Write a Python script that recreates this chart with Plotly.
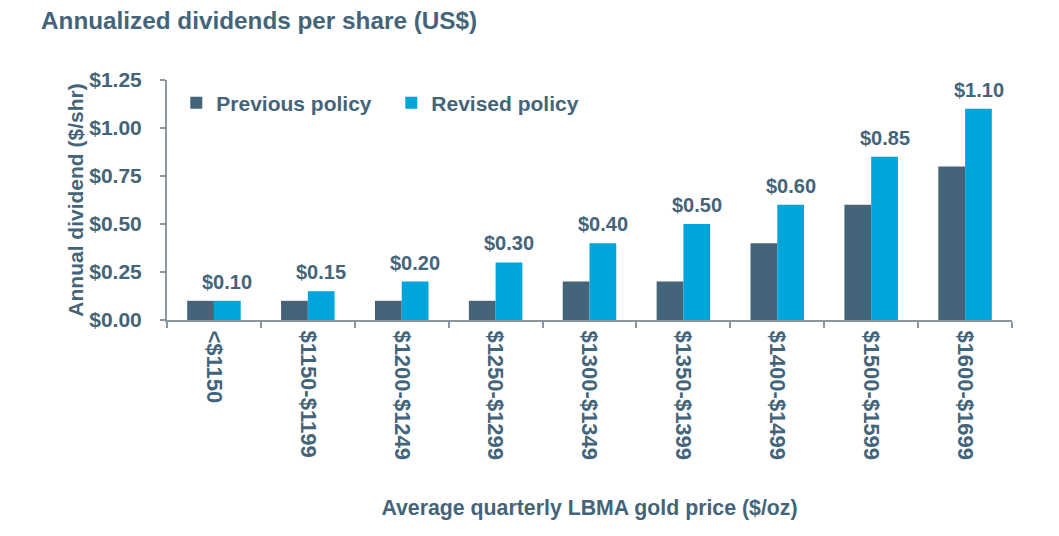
import plotly.graph_objects as go

# data
categories = ["<$1150", "$1150-$1199", "$1200-$1249", "$1250-$1299", "$1300-$1349",
              "$1350-$1399", "$1400-$1499", "$1500-$1599", "$1600-$1699"]
previous_policy = [0.10, 0.10, 0.10, 0.10, 0.20, 0.20, 0.40, 0.60, 0.80]
revised_policy = [0.10, 0.15, 0.20, 0.30, 0.40, 0.50, 0.60, 0.85, 1.10]

SLATE = "#44647A"
BLUE = "#00A5DC"
AXIS = "#8E979E"
FONT = "Arial, Liberation Sans, sans-serif"

# page body has an 8px margin, so the figure is drawn 8px in from the window edge
W, H = 1043, 520

fig = go.Figure()

fig.add_trace(go.Bar(
    x=categories, y=previous_policy, name="Previous policy",
    marker=dict(color=SLATE, line=dict(width=0)),
))
fig.add_trace(go.Bar(
    x=categories, y=revised_policy, name="Revised policy",
    marker=dict(color=BLUE, line=dict(width=0)),
))

# value labels above the revised bars (shifted right onto the second bar of each group)
for cat, val in zip(categories, revised_policy):
    fig.add_annotation(
        x=cat, y=val, text=f"${val:.2f}", showarrow=False,
        xanchor="center", yanchor="bottom", xshift=13.5, yshift=6,
        font=dict(size=20, color=SLATE, weight="bold"),
    )

fig.update_layout(
    width=W, height=H,
    paper_bgcolor="white", plot_bgcolor="white",
    font=dict(family=FONT, color=SLATE, weight="bold"),
    margin=dict(l=159, r=39, t=72, b=208),
    barmode="group", bargap=0.43, bargroupgap=0,
    title=dict(text="Annualized dividends per share (US$)",
               font=dict(size=24.3, color=SLATE, weight="bold"),
               x=33 / W, xanchor="left", xref="container",
               y=1 - 12 / H, yanchor="middle", yref="container"),
    legend=dict(orientation="h", x=0.011, xanchor="left", y=0.904, yanchor="middle",
                font=dict(size=21, color=SLATE, weight="bold"),
                entrywidth=170, entrywidthmode="pixels",
                bgcolor="rgba(0,0,0,0)", itemsizing="constant"),
    showlegend=True,
)

fig.update_yaxes(
    range=[0, 1.25], dtick=0.25, tickprefix="$", tickformat=".2f",
    showgrid=False, zeroline=False, automargin=False,
    showline=True, linecolor=AXIS, linewidth=2,
    ticks="outside", ticklen=5, tickcolor=AXIS, tickwidth=2,
    ticklabelstandoff=14,
    tickfont=dict(size=21, color=SLATE, weight="bold"),
    title=dict(text="Annual dividend ($/shr)", standoff=0,
               font=dict(size=21, color=SLATE, weight="bold")),
)

fig.update_xaxes(
    showgrid=False, showline=True, linecolor=AXIS, linewidth=2, automargin=False,
    ticks="outside", tickson="boundaries", ticklen=6, tickcolor=AXIS, tickwidth=2,
    tickangle=90, ticklabelstandoff=4,
    tickfont=dict(size=22, color=SLATE, weight="bold"),
    title=dict(text="Average quarterly LBMA gold price ($/oz)", standoff=41,
               font=dict(size=21.3, color=SLATE, weight="bold")),
)

fig.write_html("out.html")
